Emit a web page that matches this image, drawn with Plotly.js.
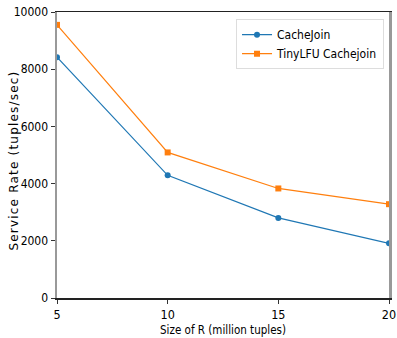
<!DOCTYPE html>
<html><head><meta charset="utf-8">
<script src="https://cdn.plot.ly/plotly-3.0.1.min.js"></script>
<style>html,body{margin:0;padding:0;background:#fff}#c{width:397px;height:338px}
.annotation-text{letter-spacing:1.2px}</style>
</head><body><div id="c"></div>
<script>
const sizes = [5, 10, 15, 20];
const cacheJoin = [8420, 4290, 2800, 1910];
const tinyLFU = [9550, 5090, 3830, 3280];
const seriesNames = ["CacheJoin", "TinyLFU Cachejoin"];
const yTicks = [0, 2000, 4000, 6000, 8000, 10000];
const yTickText = ["0", "2000", "4000", "6000", "8000", "10000"];
const xTicks = [5, 10, 15, 20];
const yTitle = "Service Rate (tuples/sec)";
const font = "DejaVu Sans Condensed, sans-serif";
const traces = [
  {x: sizes, y: cacheJoin, name: seriesNames[0], mode: "lines+markers",
   line: {color: "#1f77b4", width: 1.2}, marker: {symbol: "circle", size: 6, color: "#1f77b4"}},
  {x: sizes, y: tinyLFU, name: seriesNames[1], mode: "lines+markers",
   line: {color: "#ff7f0e", width: 1.2}, marker: {symbol: "square", size: 6, color: "#ff7f0e"}}
];
const layout = {
  width: 397, height: 338,
  margin: {l: 57, r: 8, t: 12, b: 40},
  paper_bgcolor: "#fff", plot_bgcolor: "#fff",
  font: {family: font, size: 12, color: "#000"},
  showlegend: true,
  legend: {x: 0.985, y: 0.975, xanchor: "right", yanchor: "top",
    bgcolor: "rgba(255,255,255,0.8)", bordercolor: "#ddd", borderwidth: 1,
    font: {family: font, size: 12}, tracegroupgap: 4},
  xaxis: {range: [5, 20], tickvals: xTicks, ticks: "outside", ticklen: 4, tickcolor: "#333",
    ticklabeloverflow: "allow",
    showgrid: false, zeroline: false, showline: true, linecolor: "#222", linewidth: 1.5, mirror: true,
    tickfont: {family: font, size: 12.5},
    title: {text: "Size of R (million tuples)", font: {family: font, size: 11.5}, standoff: 5}},
  yaxis: {range: [0, 10000], tickvals: yTicks, ticktext: yTickText, ticks: "outside", ticklen: 4, tickcolor: "#333",
    showgrid: false, zeroline: false, showline: true, linecolor: "#999", linewidth: 2.5, mirror: true,
    tickfont: {family: font, size: 12}},
  annotations: [{text: yTitle, xref: "paper", yref: "paper", x: -0.13, y: 0.48,
    xanchor: "center", yanchor: "middle", textangle: -90, showarrow: false,
    font: {family: "DejaVu Sans, sans-serif", size: 12, color: "#000"}}]
};
Plotly.newPlot("c", traces, layout, {displayModeBar: false, staticPlot: true});
</script></body></html>
